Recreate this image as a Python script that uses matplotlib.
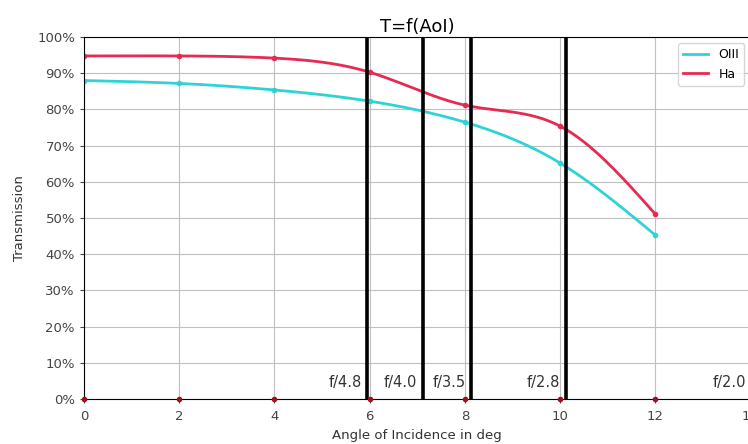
import numpy as np
import matplotlib
matplotlib.use('Agg')
import matplotlib.pyplot as plt
from matplotlib.ticker import PercentFormatter

# angle of incidence (deg) and transmission (%)
aoi = [0, 2, 4, 6, 8, 10, 12]
oiii = [88.0, 87.2, 85.4, 82.3, 76.5, 65.2, 45.3]
ha = [94.8, 94.8, 94.2, 90.3, 81.2, 75.4, 51.1]
base = [0, 0, 0, 0, 0, 0, 0]

# focal ratios and the matching angle of the marginal ray
f_ratios = [4.8, 4.0, 3.5, 2.8, 2.0]
f_labels = ['f/4.8', 'f/4.0', 'f/3.5', 'f/2.8', 'f/2.0']


def spline(x, y, n=300):
    # natural cubic spline, only used to draw a smooth line
    x = np.asarray(x, float)
    y = np.asarray(y, float)
    h = np.diff(x)
    m = len(x)
    A = np.zeros((m, m))
    r = np.zeros(m)
    A[0, 0] = A[-1, -1] = 1
    for i in range(1, m - 1):
        A[i, i - 1] = h[i - 1]
        A[i, i] = 2 * (h[i - 1] + h[i])
        A[i, i + 1] = h[i]
        r[i] = 3 * ((y[i + 1] - y[i]) / h[i] - (y[i] - y[i - 1]) / h[i - 1])
    c = np.linalg.solve(A, r)
    xs = np.linspace(x[0], x[-1], n)
    k = np.clip(np.searchsorted(x, xs) - 1, 0, m - 2)
    dx = xs - x[k]
    b = (y[k + 1] - y[k]) / h[k] - h[k] * (2 * c[k] + c[k + 1]) / 3
    d = (c[k + 1] - c[k]) / (3 * h[k])
    return xs, y[k] + b * dx + c[k] * dx ** 2 + d * dx ** 3


fig = plt.figure(figsize=(7.48, 4.44), dpi=100)
ax = fig.add_axes([0.1123, 0.1014, 0.891, 0.815])

c_oiii = '#2fd3d6'
c_ha = '#e62a52'

xs, ys = spline(aoi, oiii)
ax.plot(xs, ys, color=c_oiii, lw=2, label='OIII')
ax.plot(aoi, oiii, 'o', color=c_oiii, ms=3)
xs, ys = spline(aoi, ha)
ax.plot(xs, ys, color=c_ha, lw=2, label='Ha')
ax.plot(aoi, ha, 'o', color=c_ha, ms=3)
ax.plot(aoi, base, 'o', color='#a01020', ms=3, clip_on=False, zorder=5)

for f, lab in zip(f_ratios, f_labels):
    ang = np.degrees(np.arctan(1 / (2 * f)))
    ax.axvline(ang, color='black', lw=2.6)
    ax.text(ang - 0.12, 2.5, lab, ha='right', va='bottom', fontsize=10.5, color='#333333')

ax.set_xlim(0, 14)
ax.set_ylim(0, 100)
ax.set_xticks(range(0, 15, 2))
ax.set_yticks(range(0, 101, 10))
ax.yaxis.set_major_formatter(PercentFormatter(decimals=0))
ax.tick_params(labelsize=9.5, colors='#444444', length=3)
ax.tick_params(axis='x', pad=5)
ax.grid(color='#c0c0c0', lw=0.8)
ax.set_xlabel('Angle of Incidence in deg', fontsize=9.5, color='#333333', labelpad=4)
ax.set_ylabel('Transmission', fontsize=9.5, color='#333333', labelpad=8)
ax.set_title('T=f(AoI)', fontsize=13, pad=4)
ax.legend(loc='upper right', fontsize=9)

plt.savefig('out.png', dpi=100)
